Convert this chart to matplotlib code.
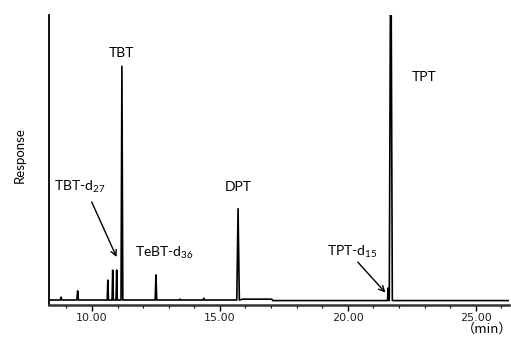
import matplotlib
matplotlib.use("Agg")
import matplotlib.pyplot as plt
from matplotlib.ticker import MultipleLocator, FormatStrFormatter

plt.rcParams["mathtext.fontset"] = "custom"
plt.rcParams["mathtext.rm"] = "Lato"
plt.rcParams["mathtext.it"] = "Lato:italic"

# peak list: retention time (min), height (response)
peak_rt = [8.79, 9.44, 10.62, 10.81, 10.965, 11.17, 12.50, 13.44, 14.37, 15.71, 21.58, 21.68]
peak_height = [1.0, 3.2, 7.0, 10.5, 10.5, 82.0, 8.8, 0.3, 0.6, 32.0, 4.2, 140.0]
peak_halfwidth = [0.03, 0.03, 0.025, 0.025, 0.025, 0.035, 0.03, 0.03, 0.03, 0.05, 0.03, 0.06]

# baseline level between break points
base_time = [8.32, 15.60, 15.90, 17.03, 17.06, 26.4]
base_level = [0.0, 0.0, 0.3, 0.3, -0.2, -0.2]

labels = ["TBT", "TPT", "DPT", "TBT-d$_{27}$", "TeBT-d$_{36}$", "TPT-d$_{15}$"]


def baseline_at(t):
    for i in range(len(base_time) - 1):
        if base_time[i] <= t <= base_time[i + 1]:
            return base_level[i]
    return base_level[-1]


# build the trace: baseline points plus a spike for each peak
trace = [(t, l) for t, l in zip(base_time, base_level)]
for rt, h, w in zip(peak_rt, peak_height, peak_halfwidth):
    b = baseline_at(rt)
    trace += [(rt - w, b), (rt, h), (rt + w, b)]
trace.sort()
tx = [p[0] for p in trace]
ty = [p[1] for p in trace]

fig = plt.figure(figsize=(5.11, 3.40), dpi=100)
ax = fig.add_axes([49 / 511, 35 / 340, 460 / 511, 290 / 340])
ax.plot(tx, ty, color="black", lw=1.2)

ax.set_xlim(8.32, 26.3)
ax.set_ylim(-1.75, 100)

for s in ["top", "right"]:
    ax.spines[s].set_visible(False)
ax.spines["left"].set_linewidth(1.3)
ax.spines["bottom"].set_linewidth(1.8)
ax.spines["bottom"].set_color("#333333")
ax.set_yticks([])
ax.xaxis.set_major_locator(MultipleLocator(5))
ax.xaxis.set_minor_locator(MultipleLocator(1))
ax.xaxis.set_major_formatter(FormatStrFormatter("%.2f"))
ax.tick_params(axis="x", which="major", length=4, width=1, labelsize=8, pad=2,
               labelcolor="#222222")
ax.tick_params(axis="x", which="minor", length=2.5, width=0.8)

font = "Lato"
ax.text(11.17, 86.7, labels[0], ha="center", va="center", fontsize=10, family=font)
ax.text(22.5, 78.2, labels[1], ha="left", va="center", fontsize=10, family=font)
ax.text(15.70, 39.6, labels[2], ha="center", va="center", fontsize=10, family=font)
ax.text(8.52, 39.6, labels[3], ha="left", va="center", fontsize=10, family=font)
ax.text(11.68, 16.5, labels[4], ha="left", va="center", fontsize=10, family=font)
ax.text(19.18, 16.8, labels[5], ha="left", va="center", fontsize=10, family=font)

arrow = dict(arrowstyle="->", color="black", lw=1.0, shrinkA=0, shrinkB=0)
ax.annotate("", xy=(10.96, 15.1), xytext=(9.99, 34.4), arrowprops=arrow)
ax.annotate("", xy=(21.47, 2.6), xytext=(20.39, 13.3), arrowprops=arrow)

fig.text(20 / 511, 1 - 155 / 340, "Response", rotation=90, ha="center", va="center",
         fontsize=9.5, family=font)
fig.text(487 / 511, 1 - 329 / 340, "（min）", ha="center", va="center", fontsize=9.5,
         family=["Noto Sans CJK JP", "DejaVu Sans"])

fig.savefig("out.png", dpi=100)
